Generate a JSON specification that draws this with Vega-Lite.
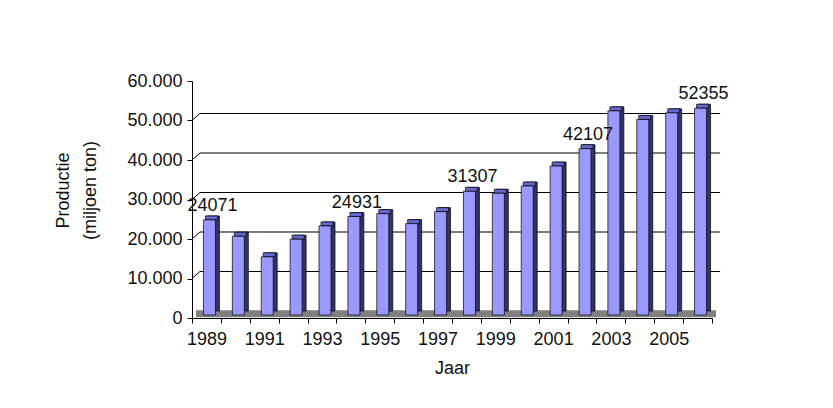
{
  "$schema": "https://vega.github.io/schema/vega-lite/v6.json",
  "width": 520,
  "height": 237,
  "autosize": {"type": "none"},
  "padding": {"left": 192, "top": 81, "right": 121, "bottom": 90},
  "background": "white",
  "config": {
    "view": {"stroke": null},
    "font": "Liberation Sans",
    "axis": {"labelOverlap": false, "labelFlush": false},
    "locale": {"number": {"decimal": ",", "thousands": ".", "grouping": [3], "currency": ["€", ""]}}
  },
  "resolve": {"scale": {"x": "shared", "y": "shared"}, "axis": {"x": "independent", "y": "independent"}},
  "datasets": {
    "prod": [
      {"year": "1989", "value": 24071},
      {"year": "1990", "value": 19950},
      {"year": "1991", "value": 14730},
      {"year": "1992", "value": 19200},
      {"year": "1993", "value": 22560},
      {"year": "1994", "value": 24931},
      {"year": "1995", "value": 25660},
      {"year": "1996", "value": 23140},
      {"year": "1997", "value": 26170},
      {"year": "1998", "value": 31307},
      {"year": "1999", "value": 30820},
      {"year": "2000", "value": 32660},
      {"year": "2001", "value": 37710},
      {"year": "2002", "value": 42107},
      {"year": "2003", "value": 51680},
      {"year": "2004", "value": 49510},
      {"year": "2005", "value": 51180},
      {"year": "2006", "value": 52355}
    ],
    "grid": [{"v": 10000}, {"v": 20000}, {"v": 30000}, {"v": 40000}, {"v": 50000}]
  },
  "layer": [
    {
      "data": {"name": "prod"},
      "mark": {"type": "bar", "width": 12, "xOffset": 3, "yOffset": -3, "y2Offset": -3, "opacity": 0},
      "encoding": {
        "x": {
          "field": "year", "type": "ordinal",
          "scale": {"paddingInner": 0, "paddingOuter": 0},
          "axis": {
            "title": "Jaar", "titleFontSize": 18, "titleFontWeight": "normal", "titleColor": "#111", "titlePadding": 11,
            "labelFontSize": 18, "labelColor": "#111", "labelAngle": 0, "labelPadding": 7,
            "labelExpr": "toNumber(datum.value) % 2 == 1 ? datum.value : ''",
            "labelOverlap": false, "tickBand": "extent", "tickSize": 5, "tickColor": "#000",
            "domainColor": "#000", "grid": false
          }
        },
        "y": {
          "field": "value", "type": "quantitative",
          "scale": {"domain": [0, 60000]},
          "axis": {
            "title": ["Productie", "(miljoen ton)"], "titleFontSize": 18, "titleFontWeight": "normal",
            "titleColor": "#111", "titleLineHeight": 27, "titlePadding": 27, "titleY": 109,
            "values": [0, 10000, 20000, 30000, 40000, 50000, 60000],
            "format": ",d",
            "labelOverlap": false, "labelFlush": false,
            "labelFontSize": 18, "labelColor": "#111", "labelPadding": 5, "tickSize": 5,
            "tickColor": "#000", "domainColor": "#000", "grid": false
          }
        },
        "y2": {"datum": 0}
      }
    },
    {
      "data": {"values": [{}]},
      "mark": {"type": "rule", "color": "#808080", "strokeWidth": 7, "xOffset": -10.5, "x2Offset": 18.5},
      "encoding": {
        "x": {"datum": "1989", "type": "ordinal", "axis": null},
        "x2": {"datum": "2006"},
        "y": {"datum": 1100, "type": "quantitative", "axis": null}
      }
    },
    {
      "data": {"name": "grid"},
      "mark": {"type": "rule", "color": "#000", "strokeWidth": 1, "xOffset": -6.5, "x2Offset": 22.5, "yOffset": -7, "y2Offset": -7},
      "encoding": {
        "x": {"datum": "1989", "type": "ordinal", "axis": null},
        "x2": {"datum": "2006"},
        "y": {"field": "v", "type": "quantitative", "axis": null}
      }
    },
    {
      "data": {"name": "grid"},
      "mark": {"type": "rule", "color": "#000", "strokeWidth": 1, "xOffset": -14.45, "x2Offset": -6.5, "y2Offset": -7},
      "encoding": {
        "x": {"datum": "1989", "type": "ordinal", "axis": null},
        "x2": {"datum": "1989"},
        "y": {"field": "v", "type": "quantitative", "axis": null},
        "y2": {"field": "v"}
      }
    },
    {
      "data": {"name": "prod"},
      "mark": {"type": "bar", "width": 12, "xOffset": 7, "yOffset": -7, "y2Offset": -7, "color": "#333366", "stroke": "#000", "strokeWidth": 0.7},
      "encoding": {
        "x": {"field": "year", "type": "ordinal", "axis": null},
        "y": {"field": "value", "type": "quantitative", "axis": null},
        "y2": {"datum": 0}
      }
    },
    {
      "data": {"name": "prod"},
      "mark": {"type": "bar", "width": 12, "xOffset": 5, "yOffset": -7, "y2Offset": -3, "color": "#6666CC", "stroke": "#000", "strokeWidth": 0.7},
      "encoding": {
        "x": {"field": "year", "type": "ordinal", "axis": null},
        "y": {"field": "value", "type": "quantitative", "axis": null},
        "y2": {"field": "value"}
      }
    },
    {
      "data": {"name": "prod"},
      "mark": {"type": "bar", "width": 12, "xOffset": 3, "yOffset": -3, "y2Offset": -3, "color": "#9999FF", "stroke": "#000", "strokeWidth": 0.7},
      "encoding": {
        "x": {"field": "year", "type": "ordinal", "axis": null},
        "y": {"field": "value", "type": "quantitative", "axis": null},
        "y2": {"datum": 0}
      }
    },
    {
      "data": {"name": "prod"},
      "transform": [{"filter": {"field": "year", "oneOf": ["1989", "1994", "1998", "2002", "2006"]}}],
      "mark": {"type": "text", "fontSize": 18, "color": "#111", "align": "center", "baseline": "alphabetic", "dy": -12, "dx": 6},
      "encoding": {
        "x": {"field": "year", "type": "ordinal", "axis": null},
        "y": {"field": "value", "type": "quantitative", "axis": null},
        "text": {"field": "value", "type": "quantitative", "format": "d"}
      }
    }
  ]
}
